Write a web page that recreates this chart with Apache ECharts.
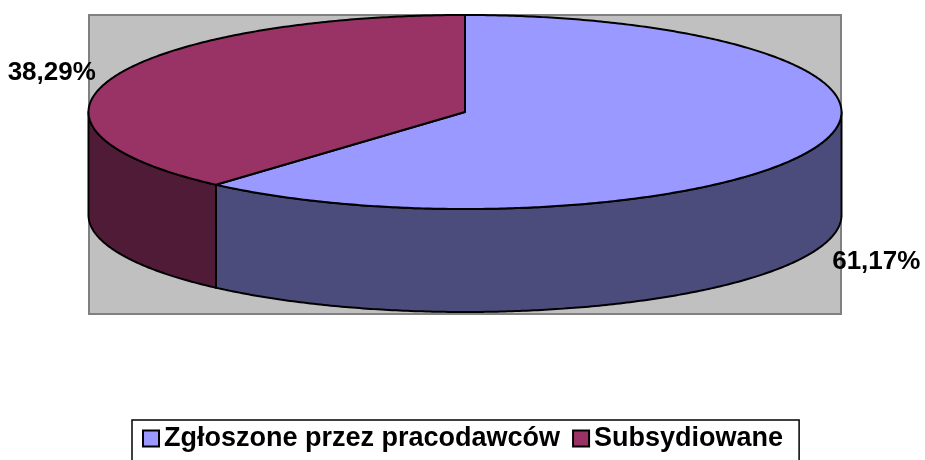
<!DOCTYPE html>
<html>
<head>
<meta charset="utf-8">
<script src="https://cdn.jsdelivr.net/npm/echarts@6/dist/echarts.min.js"></script>
<style>
  html, body { margin: 0; padding: 0; background: #fff; }
  #chart { width: 925px; height: 460px; }
</style>
</head>
<body>
<div id="chart"></div>
<script>
const categories = ['Zgłoszone przez pracodawców', 'Subsydiowane']
const values = [61.17, 38.29]
const valueLabels = ['61,17%', '38,29%']
const topColors = ['#9999ff', '#993366']
const sideColors = ['#4c4c7c', '#501b36']

// geometry of the flattened (3d) pie
const CX = 465, CY = 112, RX = 376.5, RY = 97, DEPTH = 103

const total = values.reduce((a, b) => a + b, 0)
let acc = 0
const ranges = values.map(v => {
  const r = [acc / total, (acc + v) / total]
  acc += v
  return r
})

function pt(t, dy) {
  return [CX + RX * Math.sin(t), CY - RY * Math.cos(t) + (dy || 0)]
}
function arc(a, b, dy) {
  const n = Math.max(2, Math.ceil(Math.abs(b - a) / 0.01))
  const out = []
  for (let i = 0; i <= n; i++) out.push(pt(a + (b - a) * i / n, dy))
  return out
}

function renderSlice(idx) {
  return function (params, api) {
    const a = api.value(0) * Math.PI * 2
    const b = api.value(1) * Math.PI * 2
    const children = []
    // front wall, only the lower half of the ellipse is seen
    const s = Math.max(a, Math.PI / 2)
    const e = Math.min(b, Math.PI * 1.5)
    if (e > s) {
      children.push({
        type: 'polygon',
        shape: { points: arc(s, e).concat(arc(e, s, DEPTH)) },
        style: { fill: sideColors[idx], stroke: '#000', lineWidth: 2, lineJoin: 'round' }
      })
    }
    children.push({
      type: 'polygon',
      shape: { points: [[CX, CY]].concat(arc(a, b)) },
      style: { fill: topColors[idx], stroke: '#000', lineWidth: 2, lineJoin: 'round' }
    })
    // percentage label outside the slice
    const m = (a + b) / 2
    const p = pt(m)
    const front = Math.cos(m) < 0
    const right = Math.sin(m) > 0
    children.push({
      type: 'text',
      x: p[0] + (right ? 15 : -17),
      y: p[1] + (front ? DEPTH + 13 : -5),
      style: {
        text: valueLabels[idx],
        align: right ? 'left' : 'right',
        verticalAlign: 'middle',
        font: 'bold 26px "Liberation Sans", Arial, sans-serif',
        fill: '#000'
      }
    })
    return { type: 'group', children }
  }
}

const chart = echarts.init(document.getElementById('chart'))
chart.setOption({
  animation: false,
  graphic: [{
    type: 'rect',
    z: 0,
    shape: { x: 89, y: 15, width: 752, height: 299 },
    style: { fill: '#c0c0c0', stroke: '#808080', lineWidth: 2 }
  }],
  legend: {
    left: 132,
    top: 420,
    icon: 'rect',
    itemWidth: 16,
    itemHeight: 16,
    itemGap: 12,
    padding: [5, 16, 30, 10],
    backgroundColor: '#fff',
    borderColor: '#000',
    borderWidth: 1.5,
    borderRadius: 0,
    itemStyle: { borderColor: '#000', borderWidth: 2 },
    textStyle: {
      fontSize: 27,
      fontWeight: 'bold',
      fontFamily: '"Liberation Sans", Arial, sans-serif',
      color: '#000'
    },
    data: categories
  },
  series: categories.map((name, i) => ({
    type: 'custom',
    name: name,
    coordinateSystem: 'none',
    silent: true,
    itemStyle: { color: topColors[i] },
    renderItem: renderSlice(i),
    data: [ranges[i]]
  }))
})
</script>
</body>
</html>
